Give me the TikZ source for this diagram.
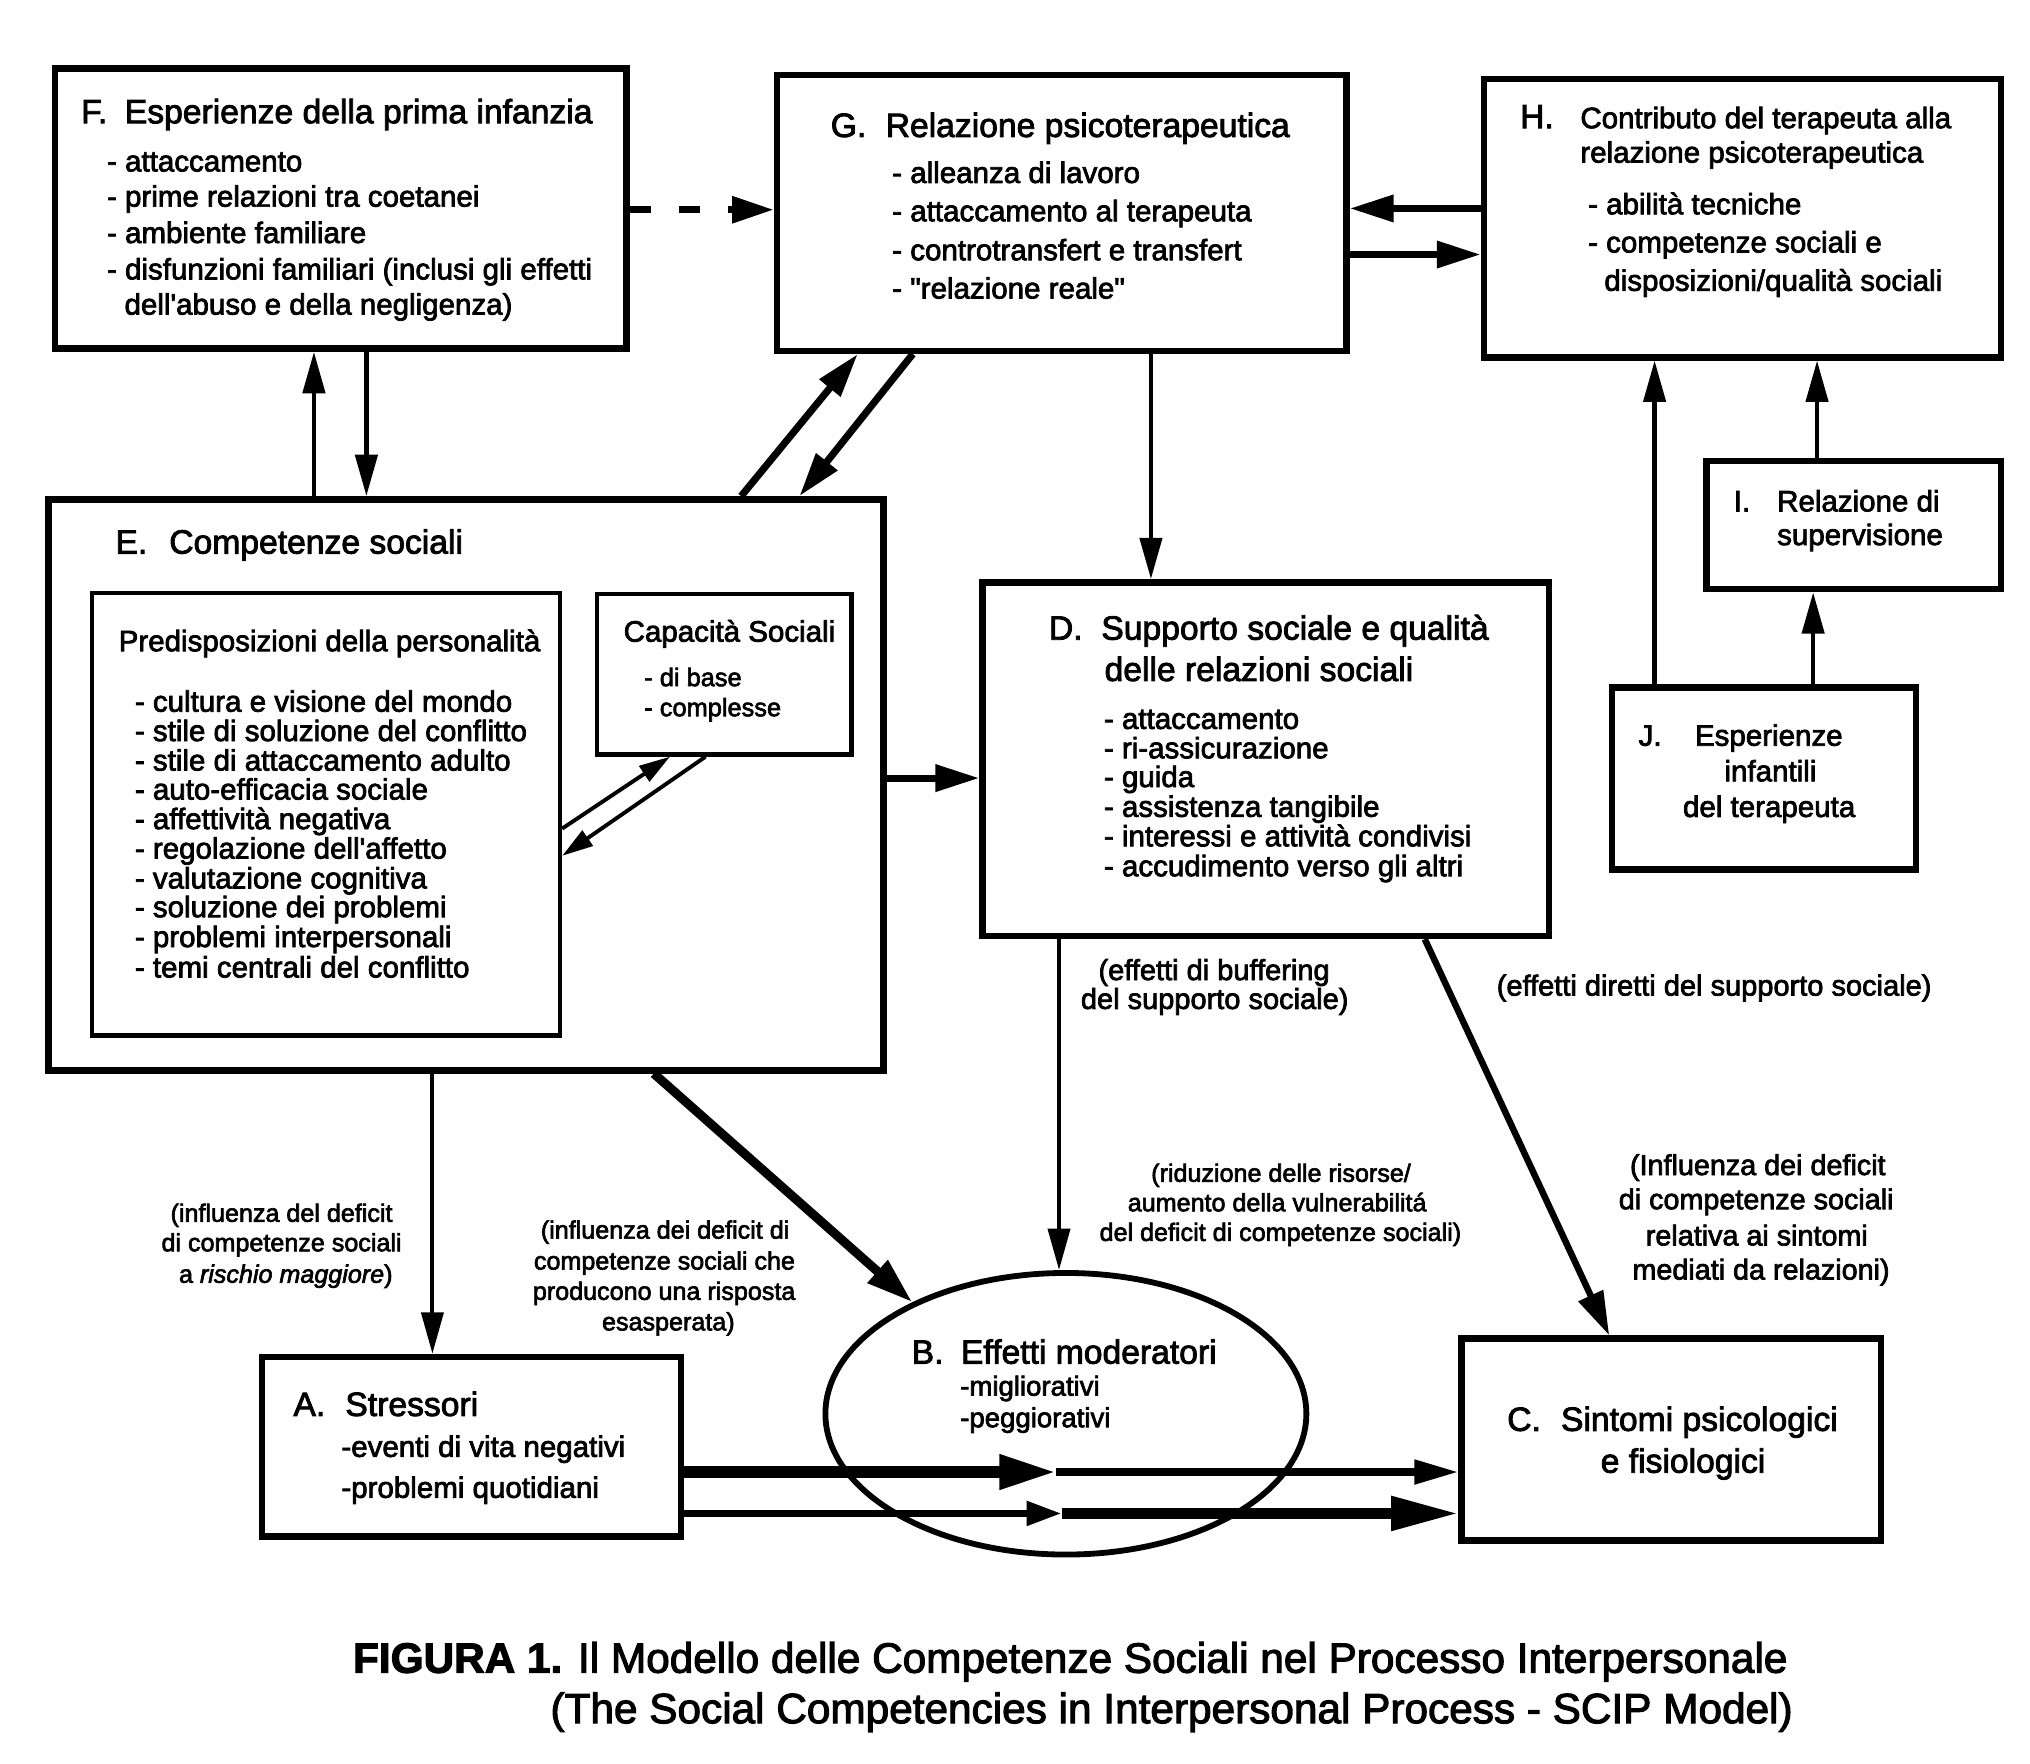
\documentclass[tikz,border=0pt]{standalone}
\usepackage{fontspec}
\setmainfont{Liberation Sans}[Ligatures=TeXOff, FakeBold=2.5]
\usetikzlibrary{arrows.meta,shapes.geometric}
\newcommand\fsz[1]{\fontsize{#1pt}{#1pt}\selectfont}
\tikzset{
  box/.style={draw, line width=5pt, inner sep=0pt},
  ibox/.style={draw, line width=3.5pt, inner sep=0pt},
  tx/.style={inner sep=0pt, anchor=base west},
  txc/.style={inner sep=0pt, anchor=base},
  ttl/.style={font=\fsz{26}},
  itm/.style={font=\fsz{22.8}},
  smi/.style={font=\fsz{19.6}},
  sml/.style={font=\fsz{19.4}},
  ann/.style={font=\fsz{22.4}},
  arr/.style={line width=3.5pt, -{Triangle[length=32pt,width=17pt]}},
  arrT/.style={line width=5.5pt, -{Triangle[length=34pt,width=20pt]}},
  arrS/.style={line width=3pt, -{Triangle[length=24pt,width=14pt]}},
}
\begin{document}
\begin{tikzpicture}[x=1pt,y=-1pt]
\useasboundingbox (0,0) rectangle (1568,1362);

% ---------- F ----------
\node[box, minimum width=441.5pt, minimum height=216.5pt] (F) at (263.25,161) {};
\node[tx,ttl] (Ft) at (62.5,95.2) {F.\hspace{13.5pt}Esperienze della prima infanzia};
\node[tx,itm] (Fi1) at (82.5,132.4) {- attaccamento};
\node[tx,itm] (Fi2) at (82.5,159.6) {- prime relazioni tra coetanei};
\node[tx,itm] (Fi3) at (82.5,187.7) {- ambiente familiare};
\node[tx,itm] (Fi4) at (82.5,215.8) {- disfunzioni familiari (inclusi gli effetti};
\node[tx,itm] (Fi5) at (96,243) {dell'abuso e della negligenza)};

% ---------- G ----------
\node[box, minimum width=440pt, minimum height=213pt] (G) at (820,164.5) {};
\node[tx,ttl] (Gt) at (641.5,105.8) {G.\hspace{15pt}Relazione psicoterapeutica};
\node[tx,itm] (Gi1) at (689,141.3) {- alleanza di lavoro};
\node[tx,itm] (Gi2) at (689,170.9) {- attaccamento al terapeuta};
\node[tx,itm] (Gi3) at (689,201) {- controtransfert e transfert};
\node[tx,itm] (Gi4) at (689,230.6) {- "relazione reale"};

% ---------- H ----------
\node[box, minimum width=399.5pt, minimum height=215pt] (H) at (1346,168.5) {};
\node[tx,ttl] (Hl) at (1174,99) {H.};
\node[tx,itm] (Ht1) at (1220.5,99) {Contributo del terapeuta alla};
\node[tx,itm] (Ht2) at (1220.5,125.6) {relazione psicoterapeutica};
\node[tx,itm] (Hi1) at (1226.5,165.5) {- abilità tecniche};
\node[tx,itm] (Hi2) at (1226.5,195) {- competenze sociali e};
\node[tx,itm] (Hi3) at (1239,224.6) {disposizioni/qualità sociali};

% ---------- E ----------
\node[box, minimum width=645pt, minimum height=441pt] (E) at (360,606.2) {};
\node[tx,ttl] (Et) at (89,427.6) {E.\hspace{17pt}Competenze sociali};
\node[ibox, minimum width=361.5pt, minimum height=342pt] (P) at (251.75,629) {};
\node[tx,itm] (Pt) at (91.5,503) {Predisposizioni della personalità};
\foreach \yy/\txt [count=\i] in {549.7/- cultura e visione del mondo, 572.4/- stile di soluzione del conflitto, 595.2/- stile di attaccamento adulto, 617.6/- auto-efficacia sociale, 640.4/- affettività negativa, 663.2/- regolazione dell'affetto, 686.2/- valutazione cognitiva, 708.4/- soluzione dei problemi, 731.5/- problemi interpersonali, 755/- temi centrali del conflitto}
  \node[tx,itm] (Pi\i) at (104,\yy) {\txt};
\node[ibox, minimum width=196.5pt, minimum height=124pt] (S) at (559.25,520.7) {};
\node[tx,itm] (St) at (481.5,495.6) {Capacità Sociali};
\node[tx,smi] (Si1) at (497.5,530) {- di base};
\node[tx,smi] (Si2) at (497.5,553.2) {- complesse};

% ---------- D ----------
\node[box, minimum width=437.5pt, minimum height=273pt] (D) at (977.75,586.4) {};
\node[tx,ttl] (Dt1) at (810,494.1) {D.\hspace{14.5pt}Supporto sociale e qualità};
\node[tx,ttl] (Dt2) at (853,526) {delle relazioni sociali};
\foreach \yy/\txt [count=\i] in {563/- attaccamento, 585.7/- ri-assicurazione, 607.9/- guida, 630.9/- assistenza tangibile, 653.7/- interessi e attività condivisi, 676.8/- accudimento verso gli altri}
  \node[tx,itm] (Di\i) at (852.5,\yy) {\txt};

% ---------- I ----------
\node[box, minimum width=227.5pt, minimum height=99pt] (I) at (1431.75,405.5) {};
\node[tx,itm] (Il) at (1339,395) {I.};
\node[tx,itm] (It1) at (1372.5,395) {Relazione di};
\node[tx,itm] (It2) at (1372.5,421) {supervisione};

% ---------- J ----------
\node[box, minimum width=235pt, minimum height=140.5pt] (J) at (1362.5,601.25) {};
\node[tx,itm] (Jl) at (1265.5,576) {J.};
\node[tx,itm] (Jt1) at (1309,576) {Esperienze};
\node[txc,itm] (Jt2) at (1367.5,603.5) {infantili};
\node[txc,itm] (Jt3) at (1366.5,631) {del terapeuta};

% ---------- A ----------
\node[box, minimum width=323.5pt, minimum height=138.5pt] (A) at (364.25,1117.4) {};
\node[tx,ttl] (At) at (226.5,1093.7) {A.\hspace{15.5pt}Stressori};
\node[tx,itm] (Ai1) at (263.5,1125.3) {-eventi di vita negativi};
\node[tx,itm] (Ai2) at (263.5,1156.9) {-problemi quotidiani};

% ---------- C ----------
\node[box, minimum width=324pt, minimum height=156pt] (C) at (1291,1112) {};
\node[tx,ttl] (Ct1) at (1164,1105.2) {C.\hspace{15.5pt}Sintomi psicologici};
\node[txc,ttl] (Ct2) at (1300,1137.5) {e fisiologici};

% ---------- B ----------
\node[draw, ellipse, line width=4.5pt, inner sep=0pt, minimum width=371.5pt, minimum height=217.5pt] (B) at (823.3,1092) {};
\node[tx,ttl] (Bt) at (704,1053.3) {B.\hspace{13.5pt}Effetti moderatori};
\node[tx,font=\fsz{21.3}] (Bi1) at (741.5,1078) {-migliorativi};
\node[tx,font=\fsz{21.3}] (Bi2) at (741.5,1102.4) {-peggiorativi};

% ---------- annotations ----------
\node[txc,ann] (n1a) at (937.75,757) {(effetti di buffering};
\node[txc,ann] (n1b) at (938.25,779.3) {del supporto sociale)};
\node[txc,ann] (n2) at (1324,769) {(effetti diretti del supporto sociale)};
\node[txc,sml] (n3a) at (217.5,943.7) {(influenza del deficit};
\node[txc,sml] (n3b) at (217.5,966.5) {di competenze sociali};
\node[txc,sml] (n3c) at (220.75,990.8) {a \textit{rischio maggiore})};
\node[txc,sml] (n41) at (513.75,956.7) {(influenza dei deficit di};
\node[txc,sml] (n42) at (513.25,980.6) {competenze sociali che};
\node[txc,sml] (n43) at (513,1004) {producono una risposta};
\node[txc,sml] (n44) at (516.25,1027.6) {esasperata)};
\node[txc,sml] (n51) at (989.5,912.8) {(riduzione delle risorse/};
\node[txc,sml] (n52) at (986.5,935.6) {aumento della vulnerabilitá};
\node[txc,sml] (n53) at (989,958.5) {del deficit di competenze sociali)};
\node[txc,font=\fsz{22.2}] (n61) at (1357.75,907.6) {(Influenza dei deficit};
\node[txc,font=\fsz{22.2}] (n62) at (1356.5,934) {di competenze sociali};
\node[txc,font=\fsz{22.2}] (n63) at (1357,962) {relativa ai sintomi};
\node[txc,font=\fsz{22.2}] (n64) at (1360.25,988.3) {mediati da relazioni)};

% ---------- caption ----------
\node[tx,font=\fsz{32.7}] (cap1) at (272.5,1292) {\textbf{FIGURA 1.} Il Modello delle Competenze Sociali nel Processo Interpersonale};
\node[tx,font=\fsz{32.7}] (cap2) at (425,1331) {(The Social Competencies in Interpersonal Process - SCIP Model)};

% ---------- connectors ----------
\draw[line width=5pt, dash pattern=on 16pt off 22pt, -{Triangle[length=32pt,width=20pt]}] (F.east |- 0,162) -- (G.west |- 0,162);
\draw[arrT] (H.west |- 0,161) -- (G.east |- 0,161);
\draw[arrT] (G.east |- 0,196.6) -- (H.west |- 0,196.6);
\draw[arr] (242.5,0 |- E.north) -- (242.5,0 |- F.south);
\draw[arr] (283,0 |- F.south) -- (283,0 |- E.north);
\draw[arrT] (572.5,0 |- E.north) -- (662.5,0 |- G.south);
\draw[arrT] (705,0 |- G.south) -- (617.5,0 |- E.north);
\draw[arr] (889,0 |- G.south) -- (889,0 |- D.north);
\draw[arrT] (E.east |- 0,601) -- (D.west |- 0,601);
\draw[arrS] (P.east |- 0,640) -- (517.5,0 |- S.south);
\draw[arrS] (545,0 |- S.south) -- (P.east |- 0,661);
\draw[arr] (1278,0 |- J.north) -- (1278,0 |- H.south);
\draw[arr] (1400.5,0 |- J.north) -- (1400.5,0 |- I.south);
\draw[arr] (1403.5,0 |- I.north) -- (1403.5,0 |- H.south);
\draw[arr, line width=3pt] (818,0 |- D.south) -- (818,0 |- B.north);
\draw[arrT, line width=5pt] (1100.5,0 |- D.south) -- (1243,0 |- C.north);
\draw[arr, line width=3pt] (334,0 |- E.south) -- (334,0 |- A.north);
\draw[line width=7pt, -{Triangle[length=36pt,width=22pt]}] (505,0 |- E.south) -- (B.144);
\draw[line width=9pt, -{Triangle[length=44pt,width=25pt]}] (A.east |- 0,1137) -- (816,1137) coordinate (m1);
\draw[line width=5.5pt, -{Triangle[length=34pt,width=18pt]}] (m1) -- (C.west |- 0,1137);
\draw[line width=5.5pt, -{Triangle[length=27pt,width=18pt]}] (A.east |- 0,1169) -- (820,1169) coordinate (m2);
\draw[line width=8pt, -{Triangle[length=52pt,width=25pt]}] (m2) -- (C.west |- 0,1169);
\end{tikzpicture}
\end{document}
